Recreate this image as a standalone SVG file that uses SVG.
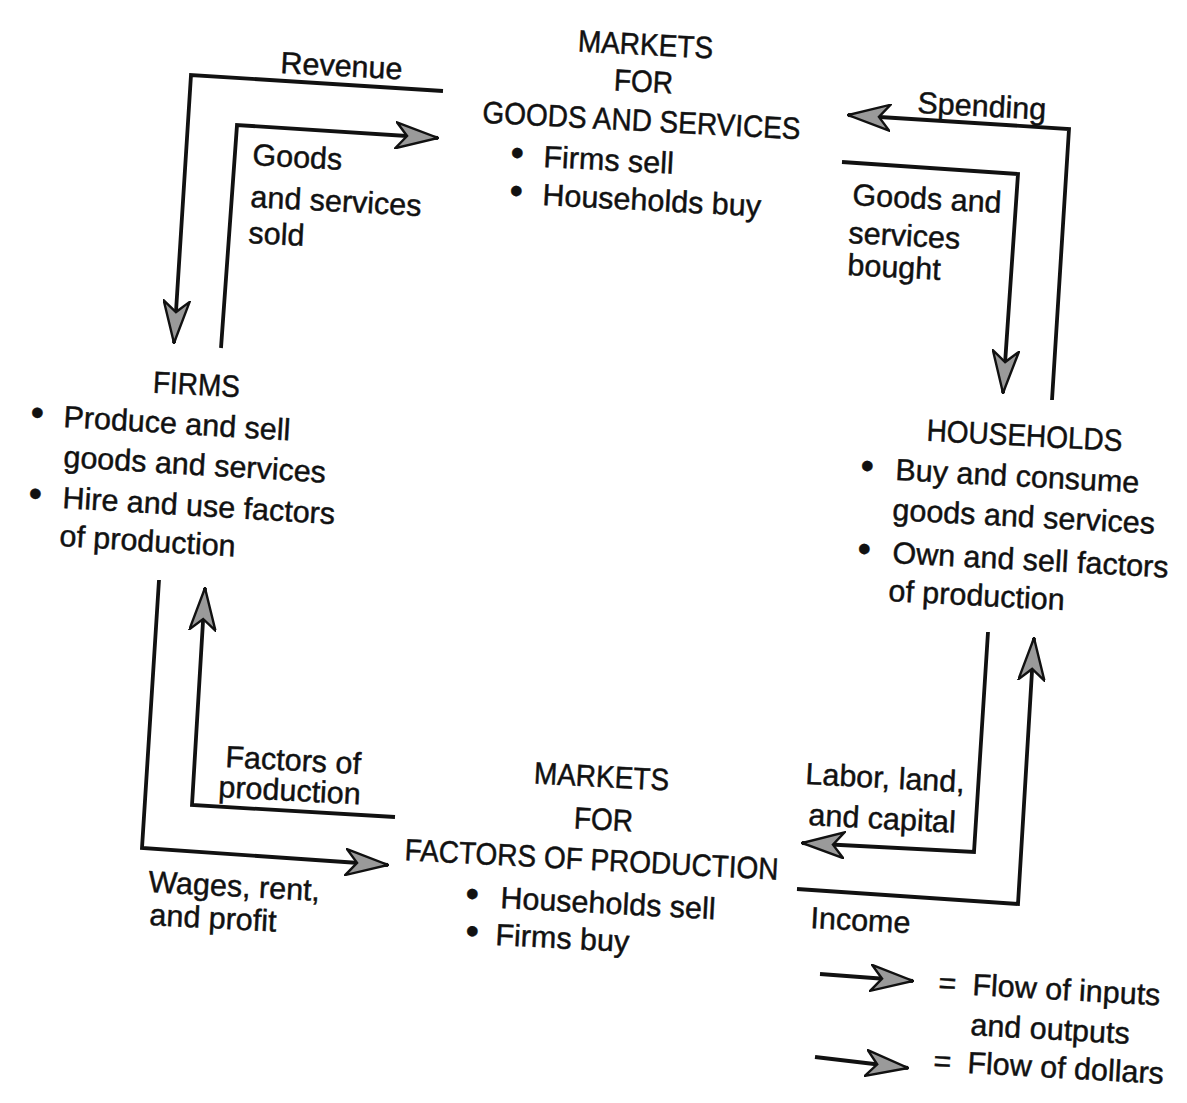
<svg xmlns="http://www.w3.org/2000/svg" width="1187" height="1103" viewBox="0 0 1187 1103">
<style>
  text { font-family: "Liberation Sans", Arial, sans-serif; fill: #111; stroke: #111; stroke-width: 0.45px; }
  .cap { font-size: 28px; }
  .low { font-size: 30.5px; }
  .mid { text-anchor: middle; }
  .bul { font-size: 38px; }
  .flow { fill: none; stroke: #111; stroke-width: 3.8; stroke-linejoin: miter; marker-end: url(#arr); }
</style>
<defs>
  <marker id="arr" viewBox="0 0 44 28" refX="43" refY="14" markerWidth="44" markerHeight="28" markerUnits="userSpaceOnUse" orient="auto">
    <path d="M1,1 L43,14 L1,27 L12,14 Z" fill="#9a9a9a" stroke="#111" stroke-width="2.4" stroke-linejoin="miter"/>
  </marker>
</defs>
<rect width="1187" height="1103" fill="#ffffff"/>

<g id="node-goods-market">
  <text class="cap mid" transform="translate(645,55) rotate(3) scale(1,1.1)">MARKETS</text>
  <text class="cap mid" transform="translate(643,92) rotate(3) scale(1,1.1)">FOR</text>
  <text class="cap mid" transform="translate(641,131) rotate(3) scale(1,1.1)">GOODS AND SERVICES</text>
  <text class="low" transform="translate(543,167) rotate(3)"><tspan class="bul" x="-33">•</tspan><tspan x="0">Firms sell</tspan></text>
  <text class="low" transform="translate(542,205) rotate(3)"><tspan class="bul" x="-33">•</tspan><tspan x="0">Households buy</tspan></text>
</g>

<g id="node-firms">
  <text class="cap mid" transform="translate(196,395) rotate(3) scale(1,1.1)">FIRMS</text>
  <text class="low" transform="translate(63,427) rotate(3.4)"><tspan class="bul" x="-33">•</tspan><tspan x="0">Produce and sell</tspan></text>
  <text class="low" transform="translate(63,467) rotate(3.4)">goods and services</text>
  <text class="low" transform="translate(62,508) rotate(3.4)"><tspan class="bul" x="-34">•</tspan><tspan x="0">Hire and use factors</tspan></text>
  <text class="low" transform="translate(59,546) rotate(3.4)">of production</text>
</g>

<g id="node-households">
  <text class="cap mid" transform="translate(1024,446) rotate(3) scale(1,1.1)">HOUSEHOLDS</text>
  <text class="low" transform="translate(895,480) rotate(3)"><tspan class="bul" x="-35">•</tspan><tspan x="0">Buy and consume</tspan></text>
  <text class="low" transform="translate(892,520) rotate(3)">goods and services</text>
  <text class="low" transform="translate(892,563) rotate(3)"><tspan class="bul" x="-35">•</tspan><tspan x="0">Own and sell factors</tspan></text>
  <text class="low" transform="translate(888,601) rotate(3)">of production</text>
</g>

<g id="node-factor-market">
  <text class="cap mid" transform="translate(601,787) rotate(3) scale(1,1.1)">MARKETS</text>
  <text class="cap mid" transform="translate(603,830) rotate(3) scale(1,1.1)">FOR</text>
  <text class="cap mid" transform="translate(591,870) rotate(3) scale(1,1.1)">FACTORS OF PRODUCTION</text>
  <text class="low" transform="translate(500,908) rotate(3)"><tspan class="bul" x="-35">•</tspan><tspan x="0">Households sell</tspan></text>
  <text class="low" transform="translate(495,945) rotate(3)"><tspan class="bul" x="-30">•</tspan><tspan x="0">Firms buy</tspan></text>
</g>

<g id="connectors">
  <path class="flow" d="M443,91 L191,75 L174,343"/>
  <path class="flow" d="M221,348 L237,125 L438,138"/>
  <path class="flow" d="M1052,400 L1069,129 L848,115"/>
  <path class="flow" d="M842,162 L1018,174 L1003,393"/>
  <path class="flow" d="M988,632 L974,852 L802,843"/>
  <path class="flow" d="M797,889 L1018,904 L1034,638"/>
  <path class="flow" d="M395,817 L192,805 L205,588"/>
  <path class="flow" d="M159,580 L142,848 L388,865"/>
</g>

<g id="connector-labels">
  <text class="low" transform="translate(280,73) rotate(3)">Revenue</text>
  <text class="low" transform="translate(252,165) rotate(3)">Goods</text>
  <text class="low" transform="translate(250,207) rotate(3)">and services</text>
  <text class="low" transform="translate(248,243) rotate(3)">sold</text>
  <text class="low" transform="translate(917,113) rotate(3)">Spending</text>
  <text class="low" transform="translate(852,205) rotate(3)">Goods and</text>
  <text class="low" transform="translate(848,243) rotate(3)">services</text>
  <text class="low" transform="translate(847,275) rotate(3)">bought</text>
  <text class="low" transform="translate(805,784) rotate(3)">Labor, land,</text>
  <text class="low" transform="translate(808,825) rotate(3)">and capital</text>
  <text class="low" transform="translate(810,928) rotate(3)">Income</text>
  <text class="low" transform="translate(225,767) rotate(3)">Factors of</text>
  <text class="low" transform="translate(218,797) rotate(3)">production</text>
  <text class="low" transform="translate(148,892) rotate(3)">Wages, rent,</text>
  <text class="low" transform="translate(149,925) rotate(3)">and profit</text>
</g>

<g id="legend">
  <path class="flow" d="M820,974 L913,981"/>
  <path class="flow" d="M815,1057 L908,1068"/>
  <text class="low" transform="translate(938,993) rotate(3.2)">= <tspan x="34">Flow of inputs</tspan></text>
  <text class="low" transform="translate(970,1035) rotate(3.2)">and outputs</text>
  <text class="low" transform="translate(933,1071) rotate(3.2)">= <tspan x="34">Flow of dollars</tspan></text>
</g>
</svg>
